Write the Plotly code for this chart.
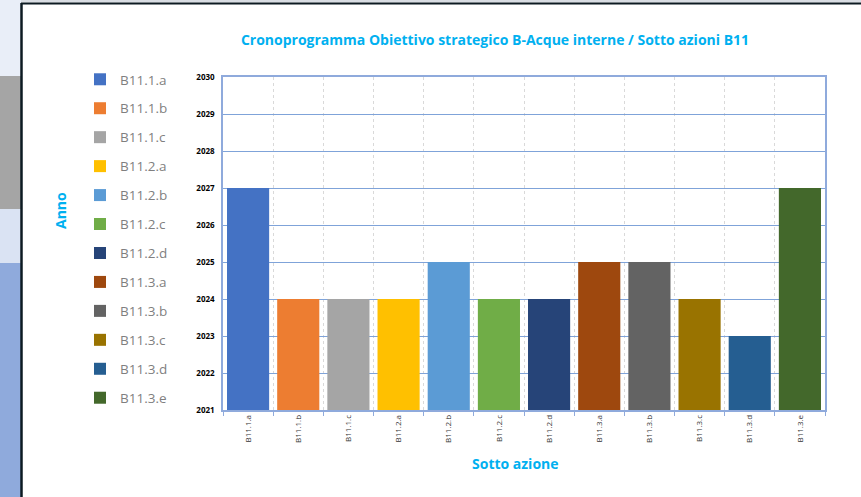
import plotly.graph_objects as go

categories = ["B11.1.a", "B11.1.b", "B11.1.c", "B11.2.a", "B11.2.b", "B11.2.c",
              "B11.2.d", "B11.3.a", "B11.3.b", "B11.3.c", "B11.3.d", "B11.3.e"]
years = [2027, 2024, 2024, 2024, 2025, 2024, 2024, 2025, 2025, 2024, 2023, 2027]
colors = ["#4472c4", "#ed7d31", "#a5a5a5", "#ffc000", "#5b9bd5", "#70ad47",
          "#264478", "#9e480e", "#636363", "#997300", "#255e91", "#43682b"]
y_ticks = list(range(2021, 2031))

W, H = 861, 497
L, R, T, B = 223, 825, 77, 410
PW, PH = R - L, B - T


def px(x):
    return (x - L) / PW


def py(y):
    return (B - y) / PH


fig = go.Figure()
for cat, val, col in zip(categories, years, colors):
    fig.add_trace(go.Bar(x=[cat], y=[val], name=cat, marker_color=col,
                         marker_line_width=0, legendgroup=cat))

shapes = []
# decorative left strip
strip = [(0, 76, "#e9eef8"), (76, 209, "#a5a5a5"), (209, 263, "#dae3f3"), (263, 497, "#8faadc")]
for y0, y1, c in strip:
    shapes.append(dict(type="rect", xref="paper", yref="paper", x0=px(0), x1=px(21),
                       y0=py(y1), y1=py(y0), fillcolor=c, line_width=0, layer="below"))
shapes.append(dict(type="rect", xref="paper", yref="paper", x0=px(21), x1=px(861),
                   y0=py(0), y1=py(2.5), fillcolor="#d9dde3", line_width=0, layer="below"))
shapes.append(dict(type="line", xref="paper", yref="paper", x0=px(21.5), x1=px(21.5),
                   y0=py(497), y1=py(3), line=dict(color="#0c1a22", width=2.5), layer="below"))
shapes.append(dict(type="line", xref="paper", yref="paper", x0=px(21), x1=px(861),
                   y0=py(3.5), y1=py(3.5), line=dict(color="#0c1a22", width=2), layer="below"))

blue = "#00b0f0"
fig.update_layout(
    width=W, height=H,
    margin=dict(l=L, r=W - R, t=T, b=H - B, pad=0),
    paper_bgcolor="white", plot_bgcolor="white",
    barmode="overlay", bargap=0.16,
    font=dict(family="Open Sans, sans-serif"),
    title=dict(text="<b>Cronoprogramma Obiettivo strategico B-Acque interne / Sotto azioni B11</b>",
               xref="container", x=495 / W, xanchor="center", yref="container",
               y=1 - 40 / H, yanchor="middle",
               font=dict(size=14, color=blue, family="Open Sans, sans-serif")),
    shapes=shapes,
    legend=dict(x=px(80), xanchor="left", y=py(64), yanchor="top",
                font=dict(size=13.5, color="#7f7f7f", family="Open Sans, sans-serif"),
                tracegroupgap=8.4, itemwidth=30, bgcolor="rgba(0,0,0,0)", maxheight=420),
    annotations=[
        dict(text="<b>Anno</b>", x=px(60), y=py(211), xref="paper", yref="paper",
             xanchor="center", yanchor="middle",
             showarrow=False, textangle=-90, font=dict(size=14, color=blue)),
        dict(text="<b>Sotto azione</b>", x=px(515), y=py(463), xref="paper", yref="paper",
             xanchor="center", yanchor="middle",
             showarrow=False, font=dict(size=14, color=blue)),
    ],
)
fig.update_xaxes(type="category", categoryorder="array", categoryarray=categories,
                 tickson="boundaries", showgrid=True, gridcolor="#d9d9d9", griddash="dot",
                 gridwidth=1, ticks="outside", ticklen=4, tickcolor="#8faadc",
                 showline=True, linecolor="#8faadc", linewidth=1.5, mirror=True,
                 tickangle=-90, tickfont=dict(size=8, color="#333333"))
fig.update_yaxes(range=[2021, 2030], tickvals=y_ticks, showgrid=True, gridcolor="#7fa3d9",
                 gridwidth=1.3, showline=True, linecolor="#8faadc", linewidth=1.5, mirror=True,
                 zeroline=False, ticks="", ticklabelstandoff=5,
                 tickfont=dict(size=8, color="#000000", weight="bold"))

fig.write_html("out.html", config={"displayModeBar": False},
               post_script="document.body.style.margin='0';")
